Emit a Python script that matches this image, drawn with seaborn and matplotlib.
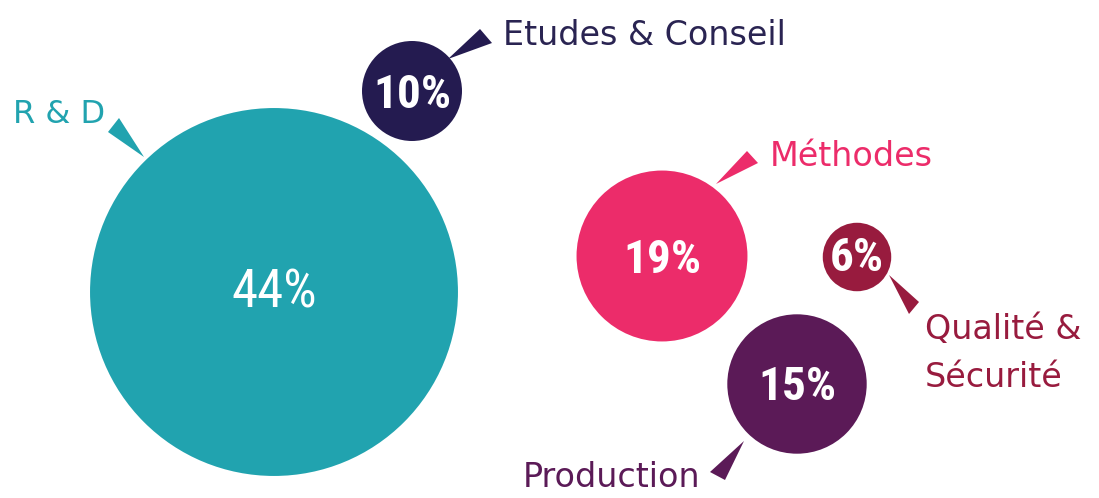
import matplotlib
matplotlib.use("Agg")
import matplotlib.pyplot as plt
import seaborn as sns
import pandas as pd
from matplotlib import font_manager

# ---------------- data ----------------
categories = ["R & D", "Etudes & Conseil", "Méthodes", "Production", "Qualité & Sécurité"]
values = [44, 10, 19, 15, 6]
labels = ["R & D", "Etudes & Conseil", "Méthodes", "Production", "Qualité &\nSécurité"]

# ---------------- layout / style ----------------
colors = ["#21A3AF", "#241B50", "#EC2C6A", "#5B1A57", "#981B3E"]
text_colors = ["#21A3AF", "#2A2452", "#EC2C6A", "#5B1A57", "#981B3E"]
centers_x = [274, 412, 662, 797, 857]
centers_y = [292, 91, 256, 384, 257]
pct_dy = [-3, 0, 0, -1, -3]
label_xy = [(13, 123), (503, 45), (770, 166), (523, 487), (925, 339)]
pointers = [
    [(108, 132), (119, 118), (144, 157)],
    [(480, 29), (492, 43), (448, 59)],
    [(747, 151), (758, 163), (716, 184)],
    [(710, 472), (725, 480), (744, 441)],
    [(909, 314), (919, 302), (889, 275)],
]

W, H, DPI = 1099, 498, 100

def radius_px(v):
    return 3.94 * v + 10.6

def area_pt2(v):
    d_pt = 2 * radius_px(v) * 72.0 / DPI
    return d_pt ** 2

df = pd.DataFrame({"categorie": categories, "valeur": values,
                   "cx": centers_x, "cy": centers_y})

sns.set_theme(style="white")
plt.rcParams["font.family"] = ["DejaVu Sans"]

avail = {f.name for f in font_manager.fontManager.ttflist}
pct_font = "Roboto Condensed" if "Roboto Condensed" in avail else ("Roboto" if "Roboto" in avail else "DejaVu Sans")

fig = plt.figure(figsize=(W / DPI, H / DPI), dpi=DPI)
ax = fig.add_axes([0, 0, 1, 1])
sns.scatterplot(data=df, x="cx", y="cy", hue="categorie",
                palette=dict(zip(categories, colors)),
                size="valeur", sizes={v: area_pt2(v) for v in values},
                legend=False, linewidth=0, alpha=1, ax=ax, zorder=2)
ax.set_xlim(0, W)
ax.set_ylim(H, 0)
ax.set_aspect("auto")
ax.axis("off")

# percentages
for v, x, y, dy in zip(values, centers_x, centers_y, pct_dy):
    if v == 44:
        fs, wt = 38, "normal"
    else:
        fs, wt = 34, "bold"
    cap_px = 0.711 * fs * DPI / 72
    ax.text(x, y + dy + cap_px / 2, f"{v}%", ha="center", va="baseline",
            color="white", fontsize=fs, fontweight=wt, family=[pct_font, "DejaVu Sans"],
            zorder=3)

# labels and pointers
for i, (lab, (lx, ly), tri, tc) in enumerate(zip(labels, label_xy, pointers, text_colors)):
    fs = 23 if i == 0 else 24
    lines = lab.split("\n")
    for k, line in enumerate(lines):
        ax.text(lx, ly + 48 * k, line, ha="left", va="baseline", color=tc,
                fontsize=fs, zorder=3)
    xs = [p[0] for p in tri]
    ys = [p[1] for p in tri]
    ax.fill(xs, ys, color=colors[i], linewidth=0, zorder=2)

fig.savefig("out.png", dpi=DPI, facecolor="white")
